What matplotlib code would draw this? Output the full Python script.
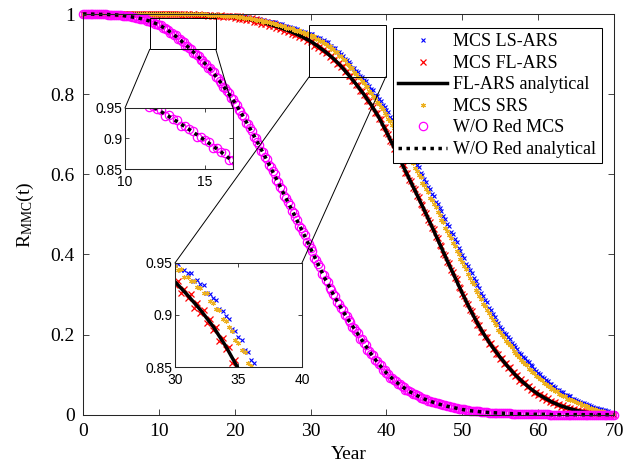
import numpy as np
import matplotlib
matplotlib.use('Agg')
import matplotlib.pyplot as plt
from matplotlib.patches import Rectangle, ConnectionPatch

plt.rcParams['font.family'] = ['Liberation Serif', 'DejaVu Serif']
plt.rcParams['mathtext.fontset'] = 'custom'
plt.rcParams['mathtext.rm'] = 'Liberation Serif'
plt.rcParams['mathtext.it'] = 'Liberation Serif:italic'

# x grids: analytical curves every year, Monte Carlo samples every quarter year
years = np.arange(0, 71)
years_mcs = np.arange(0, 281) * 0.25

fl_ars_analytical = [
    1.000, 1.000, 1.000, 1.000, 1.000, 1.000, 1.000, 1.000, 1.000, 1.000,
    1.000, 1.000, 1.000, 0.999, 0.999, 0.999, 0.998, 0.997, 0.996, 0.995,
    0.993, 0.990, 0.987, 0.983, 0.978, 0.972, 0.966, 0.959, 0.951, 0.942,
    0.932, 0.919, 0.905, 0.889, 0.870, 0.848, 0.825, 0.800, 0.773, 0.742,
    0.706, 0.667, 0.628, 0.589, 0.550, 0.510, 0.469, 0.427, 0.385, 0.344,
    0.303, 0.264, 0.228, 0.196, 0.168, 0.143, 0.120, 0.099, 0.081, 0.065,
    0.051, 0.040, 0.030, 0.022, 0.016, 0.011, 0.007, 0.004, 0.002, 0.001,
    0.000]

wo_red_analytical = [
    1.000, 1.000, 0.999, 0.999, 0.998, 0.997, 0.994, 0.991, 0.987, 0.981,
    0.973, 0.962, 0.948, 0.932, 0.915, 0.897, 0.878, 0.857, 0.833, 0.807,
    0.779, 0.748, 0.715, 0.680, 0.644, 0.607, 0.569, 0.531, 0.493, 0.455,
    0.415, 0.375, 0.336, 0.300, 0.267, 0.236, 0.208, 0.179, 0.151, 0.126,
    0.104, 0.086, 0.071, 0.058, 0.048, 0.039, 0.032, 0.026, 0.021, 0.017,
    0.013, 0.010, 0.008, 0.006, 0.005, 0.004, 0.003, 0.002, 0.002, 0.001,
    0.001, 0.001, 0.000, 0.000, 0.000, 0.000, 0.000, 0.000, 0.000, 0.000,
    0.000]

# Monte Carlo results, one line = two years (8 samples)
mcs_ls_ars = [
    1.000, 1.000, 1.000, 1.000, 1.000, 1.000, 1.000, 1.000,
    1.000, 1.000, 1.000, 1.000, 1.000, 1.000, 1.000, 1.000,
    1.000, 1.000, 1.000, 1.000, 1.000, 1.000, 1.000, 1.000,
    1.000, 1.000, 1.000, 1.000, 1.000, 1.000, 1.000, 1.000,
    1.000, 1.000, 1.000, 1.000, 1.000, 1.000, 1.000, 1.000,
    1.000, 1.000, 1.000, 1.000, 1.000, 1.000, 1.000, 1.000,
    1.000, 1.000, 1.000, 1.000, 1.000, 1.000, 1.000, 1.000,
    1.000, 1.000, 1.000, 1.000, 0.999, 0.999, 0.999, 0.999,
    0.999, 0.999, 0.998, 0.998, 0.998, 0.998, 0.997, 0.997,
    0.997, 0.997, 0.996, 0.996, 0.996, 0.996, 0.995, 0.995,
    0.995, 0.994, 0.994, 0.993, 0.993, 0.992, 0.992, 0.990,
    0.990, 0.990, 0.988, 0.988, 0.987, 0.987, 0.985, 0.984,
    0.983, 0.983, 0.981, 0.980, 0.979, 0.979, 0.976, 0.976,
    0.974, 0.974, 0.970, 0.970, 0.968, 0.968, 0.964, 0.964,
    0.962, 0.962, 0.958, 0.958, 0.956, 0.956, 0.951, 0.951,
    0.949, 0.949, 0.943, 0.943, 0.940, 0.940, 0.933, 0.934,
    0.930, 0.929, 0.921, 0.920, 0.916, 0.914, 0.906, 0.904,
    0.899, 0.896, 0.887, 0.885, 0.879, 0.876, 0.866, 0.864,
    0.857, 0.854, 0.845, 0.842, 0.836, 0.833, 0.823, 0.821,
    0.814, 0.810, 0.799, 0.796, 0.788, 0.783, 0.773, 0.769,
    0.761, 0.755, 0.744, 0.739, 0.730, 0.724, 0.711, 0.706,
    0.696, 0.689, 0.676, 0.670, 0.660, 0.653, 0.640, 0.634,
    0.624, 0.617, 0.604, 0.598, 0.588, 0.581, 0.568, 0.562,
    0.552, 0.545, 0.532, 0.526, 0.516, 0.508, 0.495, 0.488,
    0.477, 0.470, 0.456, 0.450, 0.439, 0.431, 0.417, 0.409,
    0.398, 0.391, 0.377, 0.371, 0.360, 0.353, 0.340, 0.333,
    0.323, 0.316, 0.303, 0.297, 0.287, 0.280, 0.267, 0.261,
    0.251, 0.245, 0.234, 0.229, 0.220, 0.215, 0.205, 0.201,
    0.193, 0.189, 0.179, 0.175, 0.168, 0.164, 0.155, 0.152,
    0.145, 0.142, 0.133, 0.131, 0.125, 0.122, 0.113, 0.110,
    0.104, 0.102, 0.093, 0.092, 0.086, 0.084, 0.077, 0.076,
    0.071, 0.070, 0.062, 0.062, 0.057, 0.056, 0.050, 0.050,
    0.046, 0.046, 0.039, 0.040, 0.036, 0.035, 0.031, 0.030,
    0.028, 0.027, 0.024, 0.023, 0.021, 0.020, 0.017, 0.017,
    0.015, 0.014, 0.011, 0.011, 0.009, 0.008, 0.005, 0.005,
    0.003]

mcs_fl_ars = [
    1.000, 1.000, 1.000, 1.000, 1.000, 1.000, 1.000, 1.000,
    1.000, 1.000, 1.000, 1.000, 1.000, 1.000, 1.000, 1.000,
    1.000, 1.000, 1.000, 1.000, 1.000, 1.000, 1.000, 1.000,
    1.000, 1.000, 1.000, 1.000, 1.000, 1.000, 1.000, 1.000,
    1.000, 1.000, 1.000, 1.000, 1.000, 1.000, 1.000, 1.000,
    1.000, 1.000, 1.000, 1.000, 1.000, 1.000, 1.000, 1.000,
    1.000, 0.999, 1.000, 0.999, 0.998, 0.999, 0.998, 0.999,
    0.999, 0.998, 0.999, 0.997, 0.998, 0.999, 0.997, 0.998,
    0.997, 0.998, 0.996, 0.998, 0.996, 0.997, 0.995, 0.996,
    0.995, 0.997, 0.993, 0.996, 0.994, 0.996, 0.992, 0.994,
    0.990, 0.996, 0.987, 0.994, 0.987, 0.993, 0.984, 0.991,
    0.984, 0.990, 0.980, 0.987, 0.980, 0.986, 0.976, 0.982,
    0.975, 0.981, 0.970, 0.977, 0.969, 0.975, 0.964, 0.971,
    0.963, 0.968, 0.958, 0.964, 0.956, 0.961, 0.950, 0.956,
    0.948, 0.953, 0.942, 0.947, 0.939, 0.944, 0.932, 0.938,
    0.929, 0.933, 0.921, 0.925, 0.916, 0.920, 0.907, 0.912,
    0.902, 0.905, 0.892, 0.896, 0.886, 0.888, 0.875, 0.878,
    0.867, 0.869, 0.854, 0.857, 0.845, 0.846, 0.832, 0.834,
    0.822, 0.823, 0.808, 0.809, 0.797, 0.797, 0.782, 0.783,
    0.770, 0.769, 0.753, 0.753, 0.739, 0.737, 0.719, 0.718,
    0.703, 0.700, 0.682, 0.680, 0.664, 0.661, 0.643, 0.641,
    0.625, 0.622, 0.604, 0.602, 0.586, 0.583, 0.565, 0.563,
    0.547, 0.544, 0.525, 0.523, 0.507, 0.504, 0.485, 0.482,
    0.466, 0.463, 0.443, 0.441, 0.424, 0.421, 0.401, 0.399,
    0.382, 0.379, 0.360, 0.357, 0.341, 0.338, 0.319, 0.316,
    0.300, 0.297, 0.279, 0.277, 0.261, 0.259, 0.241, 0.240,
    0.225, 0.224, 0.207, 0.207, 0.193, 0.193, 0.177, 0.178,
    0.165, 0.166, 0.151, 0.152, 0.140, 0.141, 0.127, 0.129,
    0.117, 0.119, 0.105, 0.107, 0.096, 0.098, 0.085, 0.089,
    0.078, 0.081, 0.068, 0.072, 0.062, 0.065, 0.053, 0.057,
    0.048, 0.052, 0.041, 0.046, 0.037, 0.041, 0.031, 0.035,
    0.028, 0.031, 0.023, 0.026, 0.020, 0.023, 0.016, 0.019,
    0.014, 0.017, 0.011, 0.014, 0.009, 0.012, 0.007, 0.009,
    0.006, 0.008, 0.004, 0.006, 0.003, 0.005, 0.002, 0.003,
    0.001, 0.003, 0.001, 0.002, 0.000, 0.001, 0.000, 0.001,
    0.000]

mcs_srs = [
    1.000, 1.000, 1.000, 1.000, 1.000, 1.000, 1.000, 1.000,
    1.000, 1.000, 1.000, 1.000, 1.000, 1.000, 1.000, 1.000,
    1.000, 1.000, 1.000, 1.000, 1.000, 1.000, 1.000, 1.000,
    1.000, 1.000, 1.000, 1.000, 1.000, 1.000, 1.000, 1.000,
    1.000, 1.000, 1.000, 1.000, 1.000, 1.000, 1.000, 1.000,
    1.000, 1.000, 1.000, 1.000, 1.000, 1.000, 1.000, 1.000,
    1.000, 1.000, 1.000, 1.000, 1.000, 1.000, 1.000, 1.000,
    1.000, 1.000, 1.000, 1.000, 0.999, 0.999, 0.999, 0.999,
    0.999, 0.999, 0.998, 0.998, 0.998, 0.998, 0.997, 0.997,
    0.997, 0.997, 0.996, 0.996, 0.996, 0.995, 0.995, 0.994,
    0.994, 0.993, 0.993, 0.992, 0.992, 0.991, 0.991, 0.989,
    0.989, 0.988, 0.988, 0.986, 0.986, 0.984, 0.984, 0.981,
    0.982, 0.980, 0.981, 0.977, 0.977, 0.975, 0.976, 0.972,
    0.972, 0.970, 0.971, 0.966, 0.966, 0.964, 0.965, 0.960,
    0.960, 0.958, 0.959, 0.954, 0.954, 0.951, 0.952, 0.947,
    0.947, 0.943, 0.944, 0.937, 0.937, 0.933, 0.933, 0.927,
    0.926, 0.921, 0.921, 0.913, 0.912, 0.906, 0.905, 0.896,
    0.894, 0.888, 0.885, 0.876, 0.873, 0.866, 0.864, 0.854,
    0.851, 0.844, 0.841, 0.832, 0.828, 0.821, 0.817, 0.807,
    0.803, 0.795, 0.791, 0.781, 0.776, 0.768, 0.763, 0.752,
    0.747, 0.738, 0.733, 0.722, 0.716, 0.706, 0.700, 0.688,
    0.681, 0.671, 0.665, 0.652, 0.645, 0.635, 0.629, 0.616,
    0.609, 0.599, 0.592, 0.579, 0.572, 0.562, 0.555, 0.542,
    0.535, 0.525, 0.518, 0.505, 0.498, 0.487, 0.480, 0.467,
    0.459, 0.449, 0.442, 0.428, 0.420, 0.409, 0.402, 0.388,
    0.380, 0.370, 0.363, 0.350, 0.342, 0.332, 0.325, 0.312,
    0.305, 0.295, 0.289, 0.277, 0.270, 0.261, 0.255, 0.243,
    0.237, 0.228, 0.224, 0.212, 0.207, 0.199, 0.195, 0.185,
    0.180, 0.173, 0.169, 0.159, 0.155, 0.148, 0.145, 0.136,
    0.132, 0.126, 0.124, 0.115, 0.112, 0.106, 0.105, 0.096,
    0.094, 0.089, 0.087, 0.079, 0.077, 0.072, 0.072, 0.064,
    0.063, 0.059, 0.058, 0.051, 0.050, 0.046, 0.047, 0.040,
    0.040, 0.037, 0.037, 0.033, 0.031, 0.028, 0.029, 0.025,
    0.023, 0.021, 0.021, 0.017, 0.016, 0.014, 0.014, 0.011,
    0.010, 0.008, 0.008, 0.006, 0.005, 0.004, 0.004, 0.002,
    0.002]

wo_red_mcs = [
    1.000, 1.000, 1.000, 1.000, 1.000, 1.000, 0.999, 1.000,
    0.999, 0.999, 0.999, 0.999, 0.999, 0.998, 0.998, 0.998,
    0.998, 0.998, 0.997, 0.997, 0.997, 0.996, 0.995, 0.995,
    0.994, 0.994, 0.992, 0.992, 0.991, 0.991, 0.988, 0.988,
    0.987, 0.987, 0.983, 0.983, 0.981, 0.981, 0.975, 0.976,
    0.973, 0.973, 0.965, 0.966, 0.962, 0.961, 0.952, 0.953,
    0.948, 0.947, 0.937, 0.938, 0.932, 0.931, 0.920, 0.921,
    0.915, 0.913, 0.903, 0.903, 0.897, 0.895, 0.884, 0.885,
    0.878, 0.876, 0.864, 0.864, 0.857, 0.854, 0.842, 0.841,
    0.833, 0.829, 0.817, 0.815, 0.807, 0.803, 0.790, 0.788,
    0.779, 0.774, 0.760, 0.758, 0.748, 0.743, 0.728, 0.725,
    0.715, 0.709, 0.694, 0.691, 0.680, 0.674, 0.659, 0.655,
    0.644, 0.638, 0.622, 0.618, 0.607, 0.600, 0.585, 0.580,
    0.569, 0.562, 0.547, 0.542, 0.531, 0.524, 0.509, 0.504,
    0.493, 0.486, 0.471, 0.466, 0.455, 0.448, 0.432, 0.427,
    0.415, 0.408, 0.392, 0.387, 0.375, 0.368, 0.352, 0.348,
    0.336, 0.330, 0.315, 0.311, 0.300, 0.295, 0.280, 0.277,
    0.267, 0.262, 0.248, 0.246, 0.236, 0.232, 0.219, 0.217,
    0.208, 0.204, 0.190, 0.188, 0.179, 0.175, 0.162, 0.160,
    0.151, 0.148, 0.136, 0.134, 0.126, 0.123, 0.112, 0.111,
    0.104, 0.102, 0.092, 0.092, 0.086, 0.085, 0.076, 0.076,
    0.071, 0.070, 0.062, 0.062, 0.058, 0.057, 0.051, 0.051,
    0.048, 0.047, 0.042, 0.042, 0.039, 0.039, 0.034, 0.035,
    0.032, 0.032, 0.028, 0.028, 0.026, 0.026, 0.023, 0.023,
    0.021, 0.021, 0.018, 0.018, 0.017, 0.017, 0.014, 0.014,
    0.013, 0.013, 0.011, 0.011, 0.010, 0.010, 0.008, 0.009,
    0.008, 0.008, 0.006, 0.007, 0.006, 0.006, 0.005, 0.005,
    0.005, 0.005, 0.004, 0.004, 0.004, 0.004, 0.003, 0.003,
    0.003, 0.003, 0.002, 0.002, 0.002, 0.002, 0.002, 0.002,
    0.002, 0.002, 0.001, 0.001, 0.001, 0.001, 0.001, 0.001,
    0.001, 0.001, 0.001, 0.001, 0.001, 0.001, 0.000, 0.000,
    0.000, 0.000, 0.000, 0.000, 0.000, 0.000, 0.000, 0.000,
    0.000, 0.000, 0.000, 0.000, 0.000, 0.000, 0.000, 0.000,
    0.000, 0.000, 0.000, 0.000, 0.000, 0.000, 0.000, 0.000,
    0.000, 0.000, 0.000, 0.000, 0.000, 0.000, 0.000, 0.000,
    0.000]

x_ticks = [0, 10, 20, 30, 40, 50, 60, 70]
y_ticks = [0, 0.2, 0.4, 0.6, 0.8, 1]
y_tick_labels = ['0', '0.2', '0.4', '0.6', '0.8', '1']
inset_y_ticks = [0.85, 0.9, 0.95]
inset_y_labels = ['0.85', '0.9', '0.95']

AXIS_COLOR = '#262626'


def draw_curves(ax, clip):
    mk = dict(linestyle='none', clip_on=clip)
    ax.plot(years_mcs, mcs_ls_ars, marker='x', color='#0000ff', ms=3,
            mew=0.8, label='MCS LS-ARS', **mk)
    ax.plot(years_mcs, mcs_fl_ars, marker='x', color='#ff0000', ms=4.5,
            mew=0.9, label='MCS FL-ARS', **mk)
    ax.plot(years, fl_ars_analytical, '-', color='k', lw=2.5,
            label='FL-ARS analytical', clip_on=clip)
    ax.plot(years_mcs, mcs_srs, marker=(6, 2, 0), color='#edb120', ms=3.5,
            mew=0.8, label='MCS SRS', **mk)
    ax.plot(years_mcs, wo_red_mcs, marker='o', mfc='none', mec='#ff00ff',
            ms=6, mew=0.9, label='W/O Red MCS', **mk)
    ax.plot(years, wo_red_analytical, color='k', lw=2.5,
            linestyle=(0, (1, 1.3)), label='W/O Red analytical', clip_on=clip)


def style_axes(ax, lw):
    for sp in ax.spines.values():
        sp.set_color(AXIS_COLOR)
        sp.set_linewidth(lw)


fig = plt.figure(figsize=(6.4, 4.73), dpi=100)
ax = fig.add_axes([0.1297, 0.1233, 0.8297, 0.8471])
draw_curves(ax, clip=False)
ax.set_xlim(0, 70)
ax.set_ylim(0, 1)
ax.set_xticks(x_ticks)
ax.set_yticks(y_ticks, y_tick_labels)
ax.tick_params(direction='in', length=4, width=0.6, top=True, right=True,
               labelsize=14, pad=6, color=AXIS_COLOR)
style_axes(ax, 0.75)
ax.set_xlabel('Year', fontsize=14, labelpad=4)
ax.set_ylabel(r'R$_{\rm MMC}$(t)', fontsize=14, labelpad=10)

leg = ax.legend(loc='upper right', bbox_to_anchor=(0.977, 0.965),
                borderaxespad=0, fontsize=13, fancybox=False, edgecolor='k',
                framealpha=1, handlelength=2.7, handletextpad=0.35,
                labelspacing=0.25, borderpad=0.3)
leg.get_frame().set_linewidth(0.75)

# zoom boxes on the main axes
ax.add_patch(Rectangle((8.8, 0.912), 8.7, 0.079, fill=False, ec='k',
                       lw=0.7, zorder=5, clip_on=False))
ax.add_patch(Rectangle((29.8, 0.843), 10.1, 0.13, fill=False, ec='k',
                       lw=0.7, zorder=5, clip_on=False))

# inset 1: early decay of the system without redundancy
ins1 = fig.add_axes([0.1953, 0.6427, 0.1688, 0.1290])
draw_curves(ins1, clip=True)
ins1.set_xlim(10, 16.75)
ins1.set_ylim(0.85, 0.95)
ins1.set_xticks([10, 15])
ins1.set_yticks(inset_y_ticks, inset_y_labels)

# inset 2: redundant schemes around 30-40 years
ins2 = fig.add_axes([0.2734, 0.2241, 0.1984, 0.2199])
draw_curves(ins2, clip=True)
ins2.set_xlim(30, 40)
ins2.set_ylim(0.85, 0.95)
ins2.set_xticks([30, 35, 40])
ins2.set_yticks(inset_y_ticks, inset_y_labels)

for ins in (ins1, ins2):
    ins.set_facecolor('white')
    ins.tick_params(direction='in', length=3, width=0.6, top=True, right=True,
                    labelsize=10, labelfontfamily='Liberation Sans',
                    color=AXIS_COLOR)
    ins.tick_params(axis='x', pad=4)
    ins.tick_params(axis='y', pad=2)
    style_axes(ins, 0.75)

links = [((8.8, 0.912), ins1, (0, 1)), ((17.5, 0.912), ins1, (1, 1)),
         ((29.8, 0.843), ins2, (0, 1)), ((39.9, 0.843), ins2, (1, 1))]
for xy, ins, corner in links:
    con = ConnectionPatch(xyA=xy, coordsA=ax.transData, xyB=corner,
                          coordsB=ins.transAxes, color='k', lw=0.7)
    fig.add_artist(con)

fig.savefig('out.png', dpi=100)
